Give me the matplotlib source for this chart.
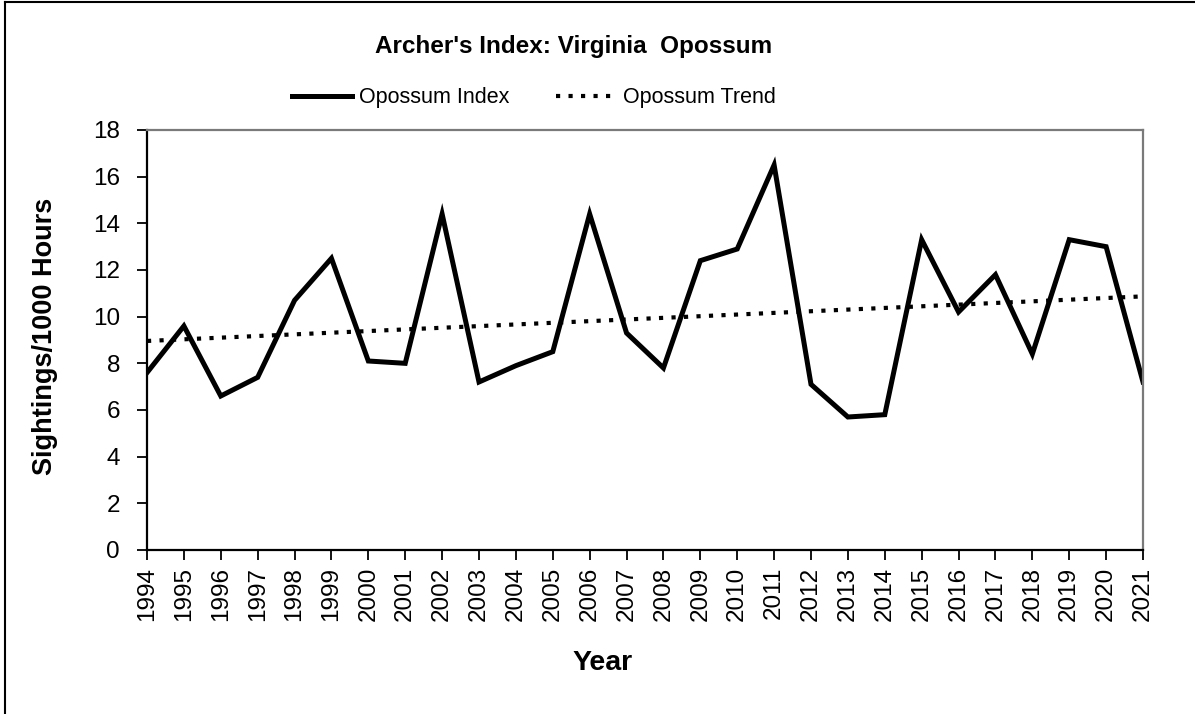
import numpy as np
import matplotlib.pyplot as plt
from matplotlib.lines import Line2D

plt.rcParams['font.family'] = ['Liberation Sans', 'DejaVu Sans']

# данные
years = list(range(1994, 2022))
index_values = [7.6, 9.6, 6.6, 7.4, 10.7, 12.5, 8.1, 8.0, 14.4, 7.2,
                7.9, 8.5, 14.4, 9.3, 7.8, 12.4, 12.9, 16.5, 7.1, 5.7,
                5.8, 13.3, 10.2, 11.8, 8.4, 13.3, 13.0, 7.2]
y_ticks = list(range(0, 19, 2))

x = np.array(years)
y = np.array(index_values)
slope, intercept = np.polyfit(x, y, 1)
trend = slope * x + intercept

fig = plt.figure(figsize=(11.95, 7.14), dpi=100)
ax = fig.add_axes([147 / 1195, 1 - 550 / 714, 996 / 1195, 420 / 714])

ax.plot(x, y, color='black', linewidth=3.6, solid_joinstyle='miter')
ax.plot(x, trend, color='black', linewidth=3, linestyle=(0, (1, 2)))

ax.set_xlim(1994, 2021)
ax.set_ylim(0, 18)
ax.set_xticks(years)
ax.set_xticklabels([str(v) for v in years], rotation=90, fontsize=17.5)
ax.set_yticks(y_ticks)
ax.set_yticklabels([str(v) for v in y_ticks], fontsize=17.5)
ax.tick_params(direction='out', length=7, width=1.3, color='black')
ax.tick_params(axis='y', pad=12.5)
ax.tick_params(axis='x', pad=5)

for side in ['left', 'bottom']:
    ax.spines[side].set_color('black')
    ax.spines[side].set_linewidth(1.6)
for side in ['top', 'right']:
    ax.spines[side].set_color('#7a7a7a')
    ax.spines[side].set_linewidth(1.6)

# заголовок и подписи осей
fig.text(574 / 1195, 1 - 47 / 714, "Archer's Index: Virginia  Opossum",
         ha='center', va='center', fontsize=17.5, fontweight='bold')
fig.text(45 / 1195, 1 - 336 / 714, 'Sightings/1000 Hours', rotation=90,
         ha='center', va='center', fontsize=19.5, fontweight='bold')
fig.text(603 / 1195, 1 - 663 / 714, 'Year',
         ha='center', va='center', fontsize=20.5, fontweight='bold')

# легенда
handles = [Line2D([], [], color='black', linewidth=3.6),
           Line2D([], [], color='black', linewidth=3, linestyle=(0, (1, 2)))]
fig.legend(handles, ['Opossum Index', 'Opossum Trend'], ncol=2,
           loc='center', bbox_to_anchor=(534 / 1195, 1 - 98 / 714),
           frameon=False, fontsize=15.5, handlelength=2.8,
           handletextpad=0.3, columnspacing=2.2)

# рамка вокруг рисунка
fig.add_artist(Line2D([5 / 1195, 5 / 1195], [0, 1 - 2 / 714],
                      transform=fig.transFigure, color='black', linewidth=1.5))
fig.add_artist(Line2D([5 / 1195, 1], [1 - 2 / 714, 1 - 2 / 714],
                      transform=fig.transFigure, color='black', linewidth=1.5))

fig.savefig('out.png', dpi=100)
